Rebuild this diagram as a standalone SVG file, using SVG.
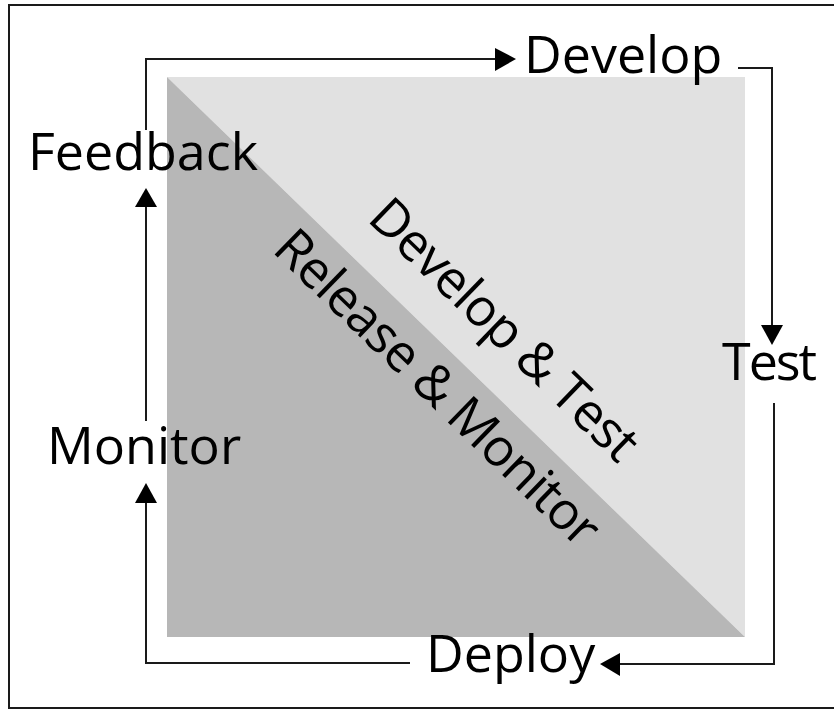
<svg xmlns="http://www.w3.org/2000/svg" width="834" height="710" viewBox="0 0 834 710">
<style>
.lbl{font-family:"Open Sans","Liberation Sans",sans-serif;font-size:52px;fill:#000}
.diag{letter-spacing:-1px}
.conn{fill:none;stroke:#1a1a1a;stroke-width:2}
.head{fill:#000}
</style>
<rect x="0" y="0" width="834" height="710" fill="#fff"/>
<rect x="9" y="5" width="832" height="703" fill="none" stroke="#1a1a1a" stroke-width="2"/>
<g id="square">
<polygon points="167,77 745,77 745,637" fill="#e1e1e1"/>
<polygon points="167,77 745,637 167,637" fill="#b7b7b7"/>
<text class="lbl diag" transform="translate(366,220) rotate(44.1)">Develop &amp; Test</text>
<text class="lbl diag" transform="translate(271,251) rotate(44.1)">Release &amp; Monitor</text>
</g>
<g id="connectors">
<path class="conn" d="M146,130 V59 H497"/>
<polygon class="head" points="516,59 495,48 495,71"/>
<path class="conn" d="M738,68 H772 V326"/>
<polygon class="head" points="772,345 761,325 783,325"/>
<path class="conn" d="M774,403 V664 H619"/>
<polygon class="head" points="600,664 620,653 620,676"/>
<path class="conn" d="M410,663 H146 V502"/>
<polygon class="head" points="146,483 135,503 157,503"/>
<path class="conn" d="M146,421 V206"/>
<polygon class="head" points="146,188 135,207 157,207"/>
</g>
<g id="develop"><text class="lbl" x="524" y="73">Develop</text></g>
<g id="test"><text class="lbl" x="722" y="380" letter-spacing="-2">Test</text></g>
<g id="deploy"><text class="lbl" x="426" y="672">Deploy</text></g>
<g id="monitor"><text class="lbl" x="47" y="464">Monitor</text></g>
<g id="feedback"><text class="lbl" x="28" y="170">Feedback</text></g>
</svg>
